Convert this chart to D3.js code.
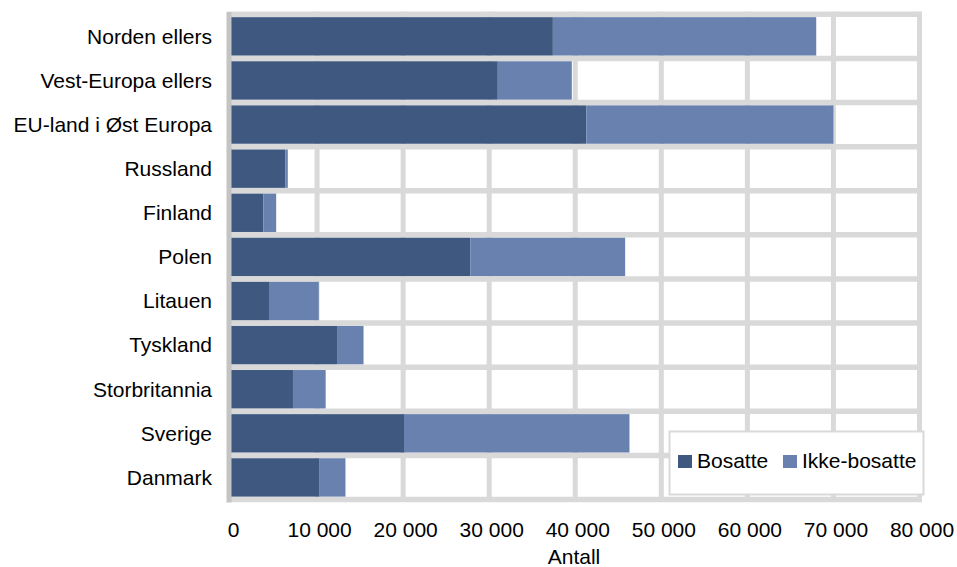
<!DOCTYPE html>
<html><head><meta charset="utf-8">
<script src="https://cdn.jsdelivr.net/npm/d3@7"></script>
<style>html,body{margin:0;padding:0;background:#fff;}svg{display:block;}</style>
</head><body>
<svg id="chart" width="957" height="567"></svg>
<script>
const categories = ["Norden ellers","Vest-Europa ellers","EU-land i Øst Europa","Russland","Finland","Polen","Litauen","Tyskland","Storbritannia","Sverige","Danmark"];
const bosatte =     [37400, 31000, 41300, 6300, 3750, 27800, 4500, 12400, 7200, 20100, 10300];
const ikkeBosatte = [30600,  8600, 28700,  300, 1500, 18000, 5700,  3000, 3800, 26200,  3000];
const seriesNames = ["Bosatte","Ikke-bosatte"];
const tickValues = [0,10000,20000,30000,40000,50000,60000,70000,80000];
const xTitle = "Antall";

const colors = ["#3f5880","#6981af"];
const font = "'Liberation Sans', Arial, sans-serif";
const fs = "21px";
const svg = d3.select("#chart");
const L = 231, R = 919.5, T = 14.3, B = 499.5;

const x = d3.scaleLinear().domain([0,80000]).range([L,R]);
const y = d3.scaleBand().domain(categories).range([T,B]).paddingInner(0.13).paddingOuter(0.065);

const data = categories.map((c,i)=>({cat:c, Bosatte:bosatte[i], "Ikke-bosatte":ikkeBosatte[i]}));
const stacked = d3.stack().keys(seriesNames)(data);

const grid = svg.append("g");
grid.selectAll("line.v").data(tickValues.slice(1)).join("line")
  .attr("x1",d=>x(d)).attr("x2",d=>x(d)).attr("y1",T-2.5).attr("y2",B+2.5)
  .attr("stroke","#d9d9d9").attr("stroke-width",5);
const step = y.step();
grid.selectAll("line.h").data(d3.range(categories.length+1)).join("line")
  .attr("x1",L).attr("x2",R+2.5).attr("y1",d=>T+d*step).attr("y2",d=>T+d*step)
  .attr("stroke","#d9d9d9").attr("stroke-width",5.5);

svg.append("g").selectAll("g").data(stacked).join("g")
  .attr("fill",(d,i)=>colors[i])
  .selectAll("rect").data(d=>d).join("rect")
  .attr("x",d=>x(d[0])).attr("width",d=>x(d[1])-x(d[0]))
  .attr("y",d=>y(d.data.cat)).attr("height",y.bandwidth());

svg.append("line").attr("x1",L-2).attr("x2",L-2).attr("y1",T-2.5).attr("y2",B+3)
  .attr("stroke","#c4c4c4").attr("stroke-width",5);

const yAxis = d3.axisLeft(y).tickSize(0).tickPadding(0);
const gy = svg.append("g").attr("transform","translate(212,0)").call(yAxis);
gy.select(".domain").remove();
gy.selectAll("text").attr("font-family",font).attr("font-size",fs).attr("fill","#000").attr("dy","0.35em");

const xAxis = d3.axisBottom(x).tickValues(tickValues).tickSize(0).tickPadding(0)
  .tickFormat(d=>d3.format(",")(d).replace(/,/g," "));
const gx = svg.append("g").attr("transform","translate(2,536.5)").call(xAxis);
gx.select(".domain").remove();
gx.selectAll("text").attr("font-family",font).attr("font-size",fs).attr("fill","#000").attr("dy",0);

svg.append("text").attr("x",574).attr("y",564).attr("text-anchor","middle")
  .attr("font-family",font).attr("font-size",fs).attr("fill","#000").text(xTitle);

const lg = svg.append("g");
lg.append("rect").attr("x",669.5).attr("y",431.5).attr("width",254).attr("height",63)
  .attr("fill","#fff").attr("stroke","#d9d9d9").attr("stroke-width",2);
const legX = [678,783];
seriesNames.forEach((s,i)=>{
  lg.append("rect").attr("x",legX[i]).attr("y",455).attr("width",14).attr("height",13).attr("fill",colors[i]);
  lg.append("text").attr("x",legX[i]+19).attr("y",468).attr("font-family",font).attr("font-size",fs).attr("fill","#000").text(s);
});
</script>
</body></html>
